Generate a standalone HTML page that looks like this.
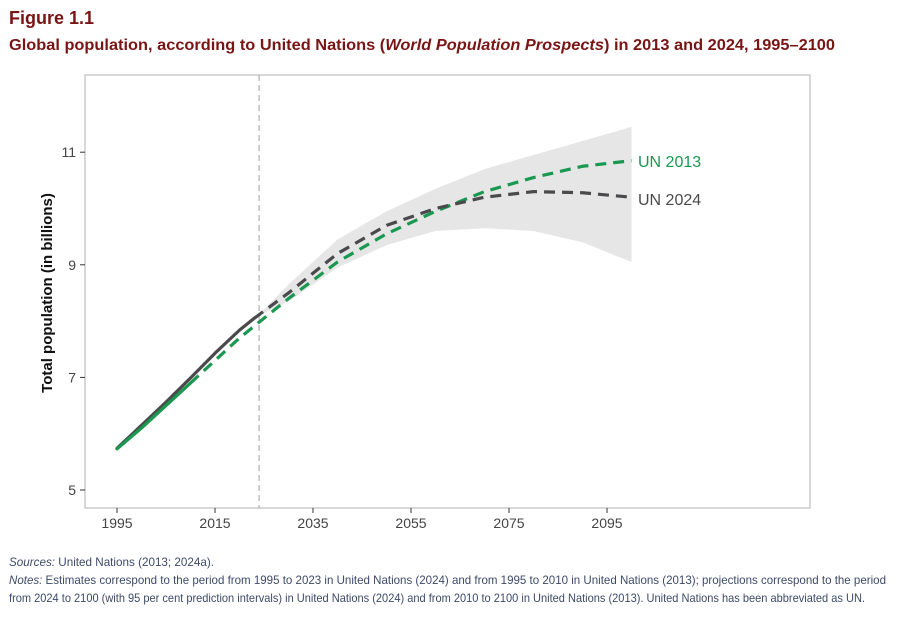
<!DOCTYPE html>
<html><head><meta charset="utf-8"><style>
body{margin:0;background:#fff;width:900px;height:619px;overflow:hidden;font-family:"Liberation Sans",sans-serif}
</style></head><body>
<svg id="chart" width="900" height="619" xmlns="http://www.w3.org/2000/svg" font-family="Liberation Sans, sans-serif">
<text x="9" y="24" font-size="18" font-weight="bold" fill="#7a1515">Figure 1.1</text>
<text x="9" y="50" font-size="16" font-weight="bold" fill="#7a1515" textLength="826" lengthAdjust="spacingAndGlyphs">Global population, according to United Nations (<tspan font-style="italic">World Population Prospects</tspan>) in 2013 and 2024, 1995–2100</text>
<rect x="85" y="75" width="725" height="433" fill="#fff" stroke="#bdbdbd" stroke-width="1.2"/>
<g id="axes"></g>
<g id="marks"></g>
<text transform="translate(52,293) rotate(-90)" text-anchor="middle" font-size="15" font-weight="bold" fill="#111">Total population (in billions)</text>
<text x="9" y="566" font-size="12" fill="#3d4a68" textLength="205" lengthAdjust="spacingAndGlyphs"><tspan font-style="italic">Sources:</tspan> United Nations (2013; 2024a).</text>
<text x="9" y="584" font-size="12" fill="#3d4a68" textLength="877" lengthAdjust="spacingAndGlyphs"><tspan font-style="italic">Notes:</tspan> Estimates correspond to the period from 1995 to 2023 in United Nations (2024) and from 1995 to 2010 in United Nations (2013); projections correspond to the period</text>
<text x="9" y="602" font-size="12" fill="#3d4a68" textLength="856" lengthAdjust="spacingAndGlyphs">from 2024 to 2100 (with 95 per cent prediction intervals) in United Nations (2024) and from 2010 to 2100 in United Nations (2013). United Nations has been abbreviated as UN.</text>
</svg>
<script>
const xTicks=[1995,2015,2035,2055,2075,2095];
const yTicks=[5,7,9,11];
const un24HistYears=[1995,2000,2005,2010,2015,2020,2023];
const un24HistVals=[5.74,6.15,6.56,6.99,7.43,7.84,8.05];
const un24ProjYears=[2023,2030,2040,2050,2060,2070,2080,2090,2100];
const un24ProjVals=[8.05,8.5,9.2,9.7,10.0,10.2,10.3,10.28,10.2];
const un13HistYears=[1995,2000,2005,2010];
const un13HistVals=[5.73,6.1,6.5,6.9];
const un13ProjYears=[2010,2015,2020,2030,2040,2050,2060,2070,2080,2090,2100];
const un13ProjVals=[6.9,7.3,7.7,8.4,9.05,9.55,9.95,10.3,10.55,10.75,10.85];
const bandYears=[2024,2030,2040,2050,2060,2070,2080,2090,2100];
const bandLow=[8.1,8.35,8.95,9.35,9.6,9.65,9.6,9.4,9.05];
const bandHigh=[8.12,8.65,9.45,9.95,10.35,10.7,10.95,11.2,11.45];
const cutYear=2024;
const NS='http://www.w3.org/2000/svg';
const X=y=>117+(y-1995)*4.9;
const Y=v=>490-(v-5)*56.3;
const axes=document.getElementById('axes'),marks=document.getElementById('marks');
function mk(tag,attrs,parent){const e=document.createElementNS(NS,tag);for(const k in attrs)e.setAttribute(k,attrs[k]);parent.appendChild(e);return e;}
xTicks.forEach(t=>{
 const l=mk('line',{x1:X(t),x2:X(t),y1:508,y2:513,stroke:'#333'},axes);
 
 
 const tx=mk('text',{x:X(t),y:528,'text-anchor':'middle','font-size':14,fill:'#444'},axes);
 tx.textContent=t;
 
 
});
yTicks.forEach(t=>{
 const l=mk('line',{x1:80,x2:85,y1:Y(t),y2:Y(t),stroke:'#333'},axes);
 
 
 const tx=mk('text',{x:76,y:Y(t)+5,'text-anchor':'end','font-size':14,fill:'#444'},axes);
 tx.textContent=t;
 
 
});
let d='M'+bandYears.map((y,i)=>X(y)+','+Y(bandHigh[i])).join('L');
for(let i=bandYears.length-1;i>=0;i--)d+='L'+X(bandYears[i])+','+Y(bandLow[i]);
const band=mk('path',{d:d+'Z',fill:'#e6e6e6'},marks);


const cut=mk('line',{x1:X(cutYear),x2:X(cutYear),y1:75,y2:508,stroke:'#b5b5b5','stroke-width':1.3,'stroke-dasharray':'6,4'},marks);


function line(ys,vs,col,dash,name){
 const p=mk('path',{d:'M'+ys.map((y,i)=>X(y)+','+Y(vs[i])).join('L'),fill:'none',stroke:col,'stroke-width':3.2,'stroke-linejoin':'round','stroke-linecap':dash?'butt':'round'},marks);
 if(dash)p.setAttribute('stroke-dasharray','11,7');
 
 
}
line(un24HistYears,un24HistVals,'#4a4a4d',false,'un2024-estimate-line');
line(un13HistYears,un13HistVals,'#1a9850',false,'un2013-estimate-line');
line(un13ProjYears,un13ProjVals,'#1a9850',true,'un2013-projection-line');
line(un24ProjYears,un24ProjVals,'#4a4a4d',true,'un2024-projection-line');
const l1=mk('text',{x:638,y:167,'font-size':16,fill:'#1a9850'},marks);
l1.textContent='UN 2013';


const l2=mk('text',{x:638,y:205,'font-size':16,fill:'#4a4a4d'},marks);
l2.textContent='UN 2024';


</script>
</body></html>
